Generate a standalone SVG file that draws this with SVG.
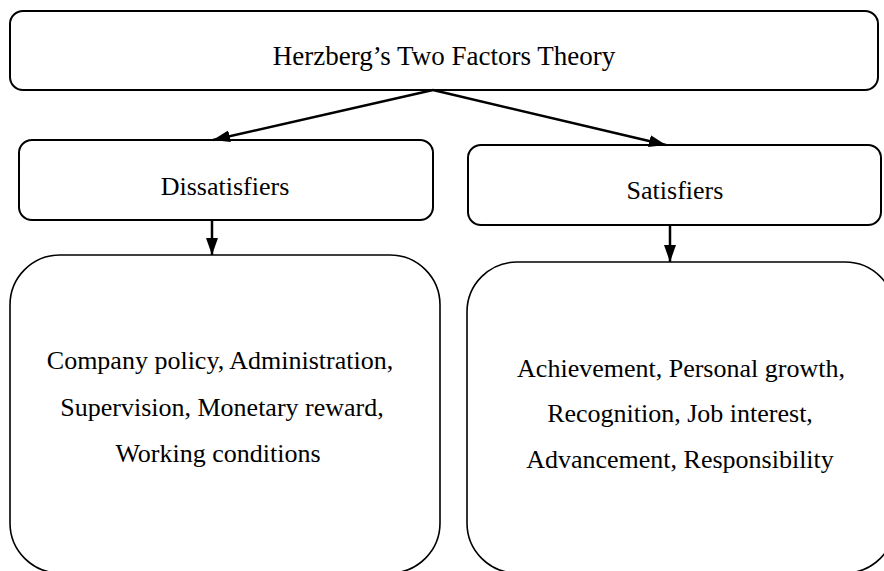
<svg xmlns="http://www.w3.org/2000/svg" width="884" height="571" viewBox="0 0 884 571">
<defs>
<style>
.box{fill:#fff;stroke:#000;stroke-width:2}
.big{fill:#fff;stroke:#000;stroke-width:1.6}
.t{font-family:"Liberation Serif","Times New Roman",serif;font-size:26px;fill:#000;text-anchor:middle}
.c{stroke:#000;stroke-width:2.5;fill:none}
</style>
<marker id="ah" markerUnits="userSpaceOnUse" markerWidth="18" markerHeight="12" refX="17" refY="6" orient="auto">
<path d="M0,0 L17,6 L0,12 z" fill="#000"/>
</marker>
</defs>
<rect width="884" height="571" fill="#fff"/>
<g id="title">
<rect class="box" x="10" y="11" width="868" height="79" rx="13"/>
<text class="t" x="444" y="65" style="font-size:27px">Herzberg’s Two Factors Theory</text>
</g>
<g id="dissatisfiers">
<rect class="box" x="19" y="140" width="414" height="80" rx="13"/>
<text class="t" x="225" y="195">Dissatisfiers</text>
</g>
<g id="satisfiers">
<rect class="box" x="468" y="145" width="413" height="80" rx="13"/>
<text class="t" x="675" y="199">Satisfiers</text>
</g>
<g id="dissatisfiers-list">
<rect class="big" x="10" y="255" width="430" height="318" rx="50"/>
<text class="t" x="220" y="369">Company policy, Administration,</text>
<text class="t" x="222" y="416">Supervision, Monetary reward,</text>
<text class="t" x="218" y="462">Working conditions</text>
</g>
<g id="satisfiers-list">
<rect class="big" x="467" y="262" width="428" height="311" rx="50"/>
<text class="t" x="681" y="377">Achievement, Personal growth,</text>
<text class="t" x="680" y="422">Recognition, Job interest,</text>
<text class="t" x="680" y="468">Advancement, Responsibility</text>
</g>
<g id="connectors">
<line class="c" x1="433" y1="90" x2="213" y2="140" marker-end="url(#ah)"/>
<line class="c" x1="433" y1="90" x2="666" y2="145" marker-end="url(#ah)"/>
<line class="c" x1="212" y1="220" x2="212" y2="255" marker-end="url(#ah)"/>
<line class="c" x1="670" y1="225" x2="670" y2="262" marker-end="url(#ah)"/>
</g>
</svg>
